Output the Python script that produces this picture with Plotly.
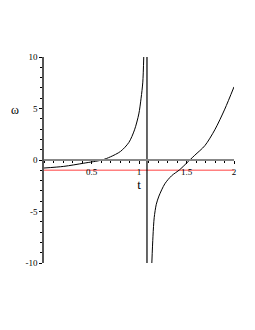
import plotly.graph_objects as go

# left branch (t, omega)
t_left = [0.0, 0.208, 0.419, 0.61, 0.70, 0.805, 0.893, 0.953, 0.998, 1.022, 1.04, 1.05]
w_left = [-0.78, -0.62, -0.31, 0.0, 0.31, 0.83, 1.70, 2.93, 4.47, 6.0, 7.56, 10.0]
# right branch
t_right = [1.135, 1.147, 1.160, 1.182, 1.210, 1.272, 1.342, 1.43, 1.50, 1.587, 1.693, 1.798, 1.903, 2.0]
w_right = [-10.0, -7.4, -5.6, -4.3, -3.5, -2.31, -1.54, -0.93, -0.31, 0.46, 1.39, 2.93, 4.94, 7.1]
# asymptote and horizontal reference
t_asym = [1.084, 1.084]
w_asym = [-10.0, 10.0]
t_ref = [0.0, 2.0]
w_ref = [-1.0, -1.0]

x_ticks = [0.5, 1, 1.5, 2]
x_labels = ["0.5", "1", "1.5", "2"]
y_ticks = [-10, -5, 0, 5, 10]
y_labels = ["-10", "-5", "0", "5", "10"]

W, H = 255, 330
L, T, PW, PH = 36, 49, 190, 206

fig = go.Figure()
fig.add_trace(go.Scatter(x=t_ref, y=w_ref, mode="lines",
                         line=dict(color="#ff8080", width=1.5)))
fig.add_trace(go.Scatter(x=t_left, y=w_left, mode="lines",
                         line=dict(color="black", width=1, shape="spline", smoothing=0.8)))
fig.add_trace(go.Scatter(x=t_right, y=w_right, mode="lines",
                         line=dict(color="black", width=1, shape="spline", smoothing=0.8)))
fig.add_trace(go.Scatter(x=t_asym, y=w_asym, mode="lines",
                         line=dict(color="black", width=1.2)))

font = dict(family="Liberation Serif", size=9, color="black")
fig.update_layout(
    width=W, height=H,
    margin=dict(l=L, r=W - L - PW, t=T, b=H - T - PH, autoexpand=False),
    paper_bgcolor="white", plot_bgcolor="white",
    showlegend=False,
    font=font,
    xaxis=dict(range=[0, 2], anchor="free", position=0.5,
               tickvals=x_ticks, ticktext=x_labels,
               showgrid=False, zeroline=False,
               showline=True, linecolor="#888888", linewidth=2,
               ticks="outside", ticklen=3, tickcolor="black",
               minor=dict(dtick=0.1, ticks="outside", ticklen=2, tickcolor="black"),
               tickfont=font, automargin=False,
               title=dict(text="t", font=dict(family="Liberation Serif", size=13), standoff=2)),
    yaxis=dict(range=[-10, 10],
               tickvals=y_ticks, ticktext=y_labels,
               showgrid=False, zeroline=False,
               showline=True, linecolor="#555555", linewidth=1.5,
               ticks="outside", ticklen=3, tickcolor="black",
               minor=dict(dtick=1, ticks="outside", ticklen=2, tickcolor="black"),
               tickfont=font, automargin=False),
    annotations=[dict(text="ω", x=(15 - 8 - L) / PW, y=1 - (110 - 8 - T) / PH,
                      xref="paper", yref="paper", xanchor="center", yanchor="middle",
                      showarrow=False, font=dict(family="Liberation Serif", size=12))],
)
fig.write_html("out.html")
